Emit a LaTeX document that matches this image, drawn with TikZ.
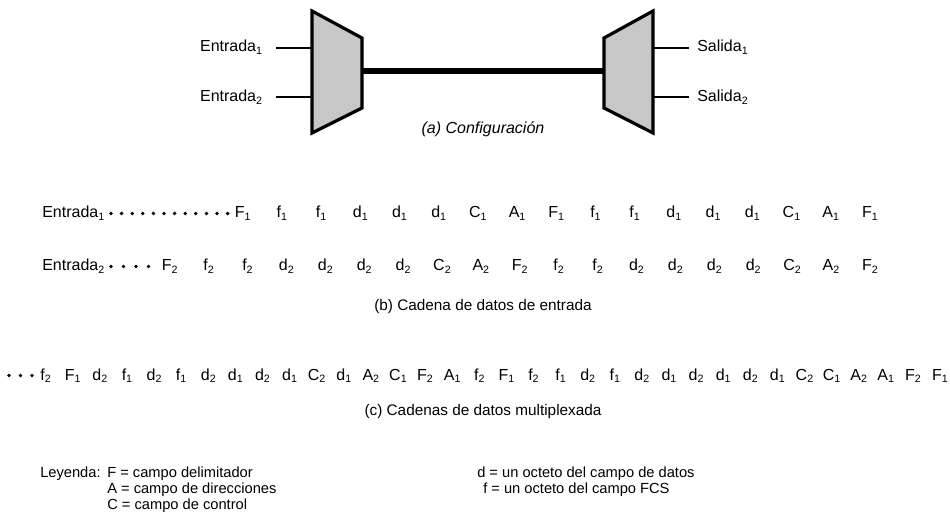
\documentclass[tikz,border=0pt]{standalone}
\usepackage{fontspec}
\setmainfont{Liberation Sans}
\usetikzlibrary{positioning}

\begin{document}
\begin{tikzpicture}[
  x=0.75pt,
  y=-0.75pt,
  every node/.style={
    font=\fontsize{12}{14}\selectfont,
    inner sep=0pt
  },
% 1. Shaded multiplexer blocks with heavy outline
  muxbox/.style={
    draw,
    fill=black!22,
    line width=2.4pt,
    line join=miter
  },
% 2. Thin input/output lines and the thick shared link
  wire/.style={
    line width=1.4pt
  },
  trunk/.style={
    line width=3.8pt
  },
% 3. Octet symbols and captions sit on their baseline
  token/.style={
    anchor=base
  },
  caption/.style={
    anchor=base,
    font=\fontsize{11.5}{14}\selectfont
  },
  legtext/.style={
    anchor=base west,
    font=\fontsize{11}{13}\selectfont
  }
]
  \useasboundingbox (0,0) rectangle (950,520);

  % (a) Configuration: multiplexer, link, demultiplexer
  \draw[muxbox] (312,11) -- (362,38) -- (362,108) -- (312,133) -- cycle;
  \draw[muxbox] (604,38) -- (653,11) -- (653,133) -- (604,108) -- cycle;

  \coordinate (mux-in1) at (311,48);
  \coordinate (mux-in2) at (311,97);
  \coordinate (mux-out) at (363,71);
  \coordinate (dmx-in) at (603,71);
  \coordinate (dmx-out1) at (654,48);
  \coordinate (dmx-out2) at (654,97);

  \node[anchor=base east] (in1) at (263,52) {Entrada\textsubscript{1}};
  \node[anchor=base east] (in2) at (263,102) {Entrada\textsubscript{2}};
  \node[anchor=base west] (out1) at (697,52) {Salida\textsubscript{1}};
  \node[anchor=base west] (out2) at (697,102) {Salida\textsubscript{2}};

  \draw[wire, shorten >=10] (mux-in1) -- (in1.east |- mux-in1);
  \draw[wire, shorten >=10] (mux-in2) -- (in2.east |- mux-in2);
  \draw[trunk] (mux-out) -- (dmx-in);
  \draw[wire, shorten >=6] (dmx-out1) -- (out1.west |- dmx-out1);
  \draw[wire, shorten >=6] (dmx-out2) -- (out2.west |- dmx-out2);

  \node[caption, font=\fontsize{12}{14}\selectfont\itshape] (capA) at (483,134) {(a) Configuración};

  % (b) Input streams
  \node[anchor=base west] (row1) at (42,218) {Entrada\textsubscript{1}};
  \foreach \k in {0,...,11}
    \fill (111+10.6*\k,213.5) circle (1.9);
  \foreach \l/\s [count=\i from 0] in {F/1,f/1,f/1,d/1,d/1,d/1,C/1,A/1,F/1,
      f/1,f/1,d/1,d/1,d/1,C/1,A/1,F/1}
    \node[token] (a\i) at (243+39.2*\i,218) {\l\textsubscript{\s}};

  \node[anchor=base west] (row2) at (42,271) {Entrada\textsubscript{2}};
  \foreach \k in {0,...,3}
    \fill (111+12.5*\k,266.5) circle (1.9);
  \foreach \l/\s [count=\i from 0] in {F/2,f/2,f/2,d/2,d/2,d/2,d/2,C/2,A/2,F/2,
      f/2,f/2,d/2,d/2,d/2,d/2,C/2,A/2,F/2}
    \node[token] (b\i) at (170+38.9*\i,271) {\l\textsubscript{\s}};

  \node[caption] (capB) at (483,311) {(b) Cadena de datos de entrada};

  % (c) Multiplexed stream
  \foreach \k in {0,...,2}
    \fill (9+11.5*\k,375.5) circle (1.9);
  \foreach \l/\s [count=\i from 0] in {f/2,F/1,d/2,f/1,d/2,f/1,d/2,d/1,d/2,d/1,
      C/2,d/1,A/2,C/1,F/2,A/1,f/2,F/1,f/2,f/1,d/2,f/1,d/2,d/1,d/2,d/1,d/2,d/1,
      C/2,C/1,A/2,A/1,F/2,F/1}
    \node[token] (c\i) at (46+27.1*\i,380) {\l\textsubscript{\s}};

  \node[caption] (capC) at (483,415) {(c) Cadenas de datos multiplexada};

  % Legend
  \node[legtext] (leg) at (40,477) {Leyenda:};
  \node[legtext] (legF) at (107,477) {F = campo delimitador};
  \node[legtext] (legA) at (107,493) {A = campo de direcciones};
  \node[legtext] (legC) at (107,509) {C = campo de control};
  \node[legtext] (legd) at (477,477) {d = un octeto del campo de datos};
  \node[legtext] (legf) at (483,493) {f = un octeto del campo FCS};

\end{tikzpicture}
\end{document}
